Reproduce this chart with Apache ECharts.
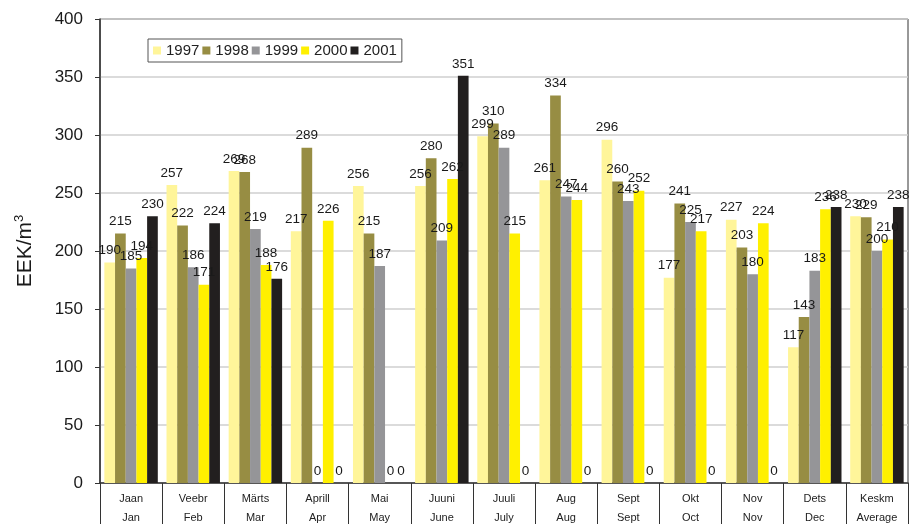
<!DOCTYPE html>
<html>
<head>
<meta charset="utf-8">
<title>EEK/m3</title>
<script src="https://cdn.jsdelivr.net/npm/echarts@6/dist/echarts.min.js"></script>
<style>
  html, body { margin: 0; padding: 0; background: #fff; }
  #chart { width: 909px; height: 524px; }
</style>
</head>
<body>
<div id="chart"></div>
<script>
// Month labels: Estonian on the first line, English on the second
const categories = [
  'Jaan\nJan', 'Veebr\nFeb', 'Märts\nMar', 'Aprill\nApr', 'Mai\nMay',
  'Juuni\nJune', 'Juuli\nJuly', 'Aug\nAug', 'Sept\nSept', 'Okt\nOct',
  'Nov\nNov', 'Dets\nDec', 'Keskm\nAverage'
];

// Price per cubic metre, EEK
const years = ['1997', '1998', '1999', '2000', '2001'];
const v1997 = [190, 257, 269, 217, 256, 256, 299, 261, 296, 177, 227, 117, 230];
const v1998 = [215, 222, 268, 289, 215, 280, 310, 334, 260, 241, 203, 143, 229];
const v1999 = [185, 186, 219, 0, 187, 209, 289, 247, 243, 225, 180, 183, 200];
const v2000 = [194, 171, 188, 226, 0, 262, 215, 244, 252, 217, 224, 236, 210];
const v2001 = [230, 224, 176, 0, 0, 351, 0, 0, 0, 0, 0, 238, 238];

const yTicks = { min: 0, max: 400, step: 50 };

const colors = ['#FFF59A', '#978D43', '#959598', '#FFF000', '#221F1F'];
const values = [v1997, v1998, v1999, v2000, v2001];

const FONT = 'Liberation Sans, Arial, Helvetica, sans-serif';

const chart = echarts.init(document.getElementById('chart'), null, { renderer: 'canvas' });

chart.setOption({
  animation: false,
  backgroundColor: '#fff',
  color: colors,
  textStyle: { fontFamily: FONT },
  grid: {
    left: 100, right: 1, top: 19, bottom: 41,
    outerBoundsMode: 'none',
    containLabel: false,
    show: true, borderColor: '#333', borderWidth: 1, backgroundColor: 'transparent'
  },
  legend: {
    left: 148, top: 39,
    orient: 'horizontal',
    itemWidth: 8, itemHeight: 8, itemGap: 3,
    padding: [4, 5],
    borderColor: '#555', borderWidth: 1,
    backgroundColor: '#fff',
    icon: 'rect',
    textStyle: { fontSize: 15, color: '#222', fontFamily: FONT },
    data: years
  },
  xAxis: {
    type: 'category',
    data: categories,
    boundaryGap: true,
    axisLine: { show: true, lineStyle: { color: '#333', width: 1.5 } },
    axisTick: { show: true, interval: 0, length: 45, lineStyle: { color: '#333', width: 1 } },
    axisLabel: {
      interval: 0, fontSize: 11, lineHeight: 19, margin: 6,
      color: '#222', fontFamily: FONT
    },
    splitLine: { show: false }
  },
  yAxis: {
    type: 'value',
    min: yTicks.min, max: yTicks.max, interval: yTicks.step,
    name: '{a|EEK/m}{b|3}',
    nameLocation: 'middle',
    nameGap: 63,
    nameRotate: 90,
    nameTextStyle: {
      rich: {
        a: { fontSize: 21, color: '#1a1a1a', fontFamily: FONT, lineHeight: 24 },
        b: { fontSize: 13, color: '#1a1a1a', fontFamily: FONT, verticalAlign: 'top', lineHeight: 24 }
      }
    },
    axisLine: { show: true, lineStyle: { color: '#333', width: 1.5 } },
    axisTick: { show: true, length: 5, lineStyle: { color: '#333' } },
    axisLabel: { fontSize: 17, color: '#1a1a1a', margin: 17, fontFamily: FONT },
    splitLine: { show: true, lineStyle: { color: '#cfcfcf', width: 1.5 } }
  },
  series: years.map((y, i) => ({
    name: y,
    type: 'bar',
    data: values[i],
    barGap: '0%',
    barCategoryGap: '14%',
    itemStyle: { color: colors[i] },
    label: {
      show: true, position: 'top', distance: 5,
      fontSize: 13.5, color: '#1a1a1a', fontFamily: FONT
    }
  }))
});
</script>
</body>
</html>
